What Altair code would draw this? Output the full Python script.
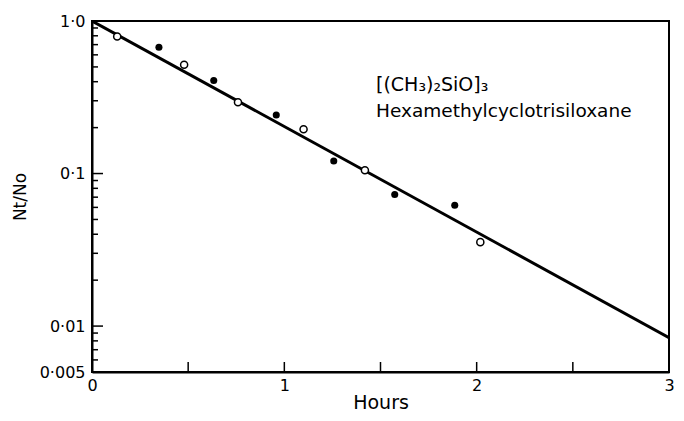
import altair as alt
import pandas as pd

# Open circles (one run)
open_hours = [0.131, 0.479, 0.759, 1.100, 1.419, 2.019]
open_ratio = [0.791, 0.517, 0.293, 0.195, 0.105, 0.0355]
# Filled circles (other run)
filled_hours = [0.348, 0.633, 0.958, 1.257, 1.574, 1.886]
filled_ratio = [0.672, 0.407, 0.242, 0.121, 0.0729, 0.0619]
# Fitted first-order decay line
fit_hours = [0.0, 3.0]
fit_ratio = [1.0, 0.0084]

# Axis ticks / labels
x_label_values = [0, 1, 2, 3]
x_tick_values = [0.5, 1.0, 1.5, 2.0, 2.5]
y_label_values = [1.0, 0.1, 0.01, 0.005]
y_label_texts = ["1·0", "0·1", "0·01", "0·005"]
y_major_ticks = [0.1, 0.01]
y_minor_ticks = [0.9, 0.8, 0.7, 0.6, 0.5, 0.4, 0.3, 0.2,
                 0.09, 0.08, 0.07, 0.06, 0.05, 0.04, 0.03, 0.02,
                 0.009, 0.008, 0.007, 0.006]

formula = "[(CH₃)₂SiO]₃"
compound = "Hexamethylcyclotrisiloxane"

FONT = "DejaVu Sans"

label_expr = " : ".join(
    f"datum.value == {v} ? '{t}'" for v, t in zip(y_label_values, y_label_texts)
) + " : ''"

xscale = alt.Scale(domain=[0, 3], nice=False, zero=False)
yscale = alt.Scale(type="log", domain=[0.005, 1.0], nice=False)

xaxis = alt.Axis(title="Hours", values=x_label_values, format="d", ticks=False, grid=False,
                 labelFontSize=16, titleFontSize=19, labelFont=FONT, titleFont=FONT,
                 labelColor="black", titleColor="black", titleFontWeight="normal",
                 domainColor="black", domainWidth=2, labelPadding=5, titlePadding=0,
                 labelFlush=False)
yaxis = alt.Axis(title="Nt/No", values=y_label_values, labelExpr=label_expr,
                 ticks=False, grid=False, labelFontSize=16, titleFontSize=17,
                 labelFont=FONT, titleFont=FONT, labelColor="black", titleColor="black",
                 titleFontWeight="normal", domainColor="black", domainWidth=2,
                 labelPadding=7, titlePadding=10, labelFlush=False)

fit_df = pd.DataFrame({"hours": fit_hours, "ratio": fit_ratio})
open_df = pd.DataFrame({"hours": open_hours, "ratio": open_ratio})
filled_df = pd.DataFrame({"hours": filled_hours, "ratio": filled_ratio})
ymaj_df = pd.DataFrame({"ratio": y_major_ticks})
ymin_df = pd.DataFrame({"ratio": y_minor_ticks})
xt_df = pd.DataFrame({"hours": x_tick_values})

W, H = 577, 351

line = alt.Chart(fit_df).mark_line(color="black", strokeWidth=3, clip=True).encode(
    x=alt.X("hours:Q", scale=xscale, axis=xaxis),
    y=alt.Y("ratio:Q", scale=yscale, axis=yaxis),
)
open_pts = alt.Chart(open_df).mark_point(shape="circle", filled=True, fill="white",
                                         stroke="black", strokeWidth=1.5, size=50,
                                         opacity=1).encode(
    x=alt.X("hours:Q", scale=xscale),
    y=alt.Y("ratio:Q", scale=yscale),
)
filled_pts = alt.Chart(filled_df).mark_point(shape="circle", filled=True, color="black",
                                             size=50, opacity=1).encode(
    x=alt.X("hours:Q", scale=xscale),
    y=alt.Y("ratio:Q", scale=yscale),
)
ymaj = alt.Chart(ymaj_df).mark_rule(color="black", strokeWidth=1.5).encode(
    y=alt.Y("ratio:Q", scale=yscale), x=alt.value(0), x2=alt.value(11))
ymin = alt.Chart(ymin_df).mark_rule(color="black", strokeWidth=1.5).encode(
    y=alt.Y("ratio:Q", scale=yscale), x=alt.value(0), x2=alt.value(6))
xt = alt.Chart(xt_df).mark_rule(color="black", strokeWidth=1.5).encode(
    x=alt.X("hours:Q", scale=xscale), y=alt.value(H), y2=alt.value(H - 10))

label_df = pd.DataFrame({"t": [formula]})
formula_txt = alt.Chart(label_df).mark_text(align="left", baseline="middle", fontSize=19,
                                            font=FONT, color="black").encode(
    text="t:N", x=alt.value(284), y=alt.value(64))
label_df2 = pd.DataFrame({"t": [compound]})
compound_txt = alt.Chart(label_df2).mark_text(align="left", baseline="middle", fontSize=18.5,
                                              font=FONT, color="black").encode(
    text="t:N", x=alt.value(284), y=alt.value(90))

chart = alt.layer(line, ymaj, ymin, xt, open_pts, filled_pts, formula_txt, compound_txt).properties(
    width=W, height=H,
    autosize=alt.AutoSizeParams(type="none"),
    padding={"left": 84, "top": 13, "right": 7, "bottom": 41},
    background="white",
).configure_view(stroke="black", strokeWidth=2)

chart.save("out.html", embed_options={"renderer": "svg", "actions": False})
